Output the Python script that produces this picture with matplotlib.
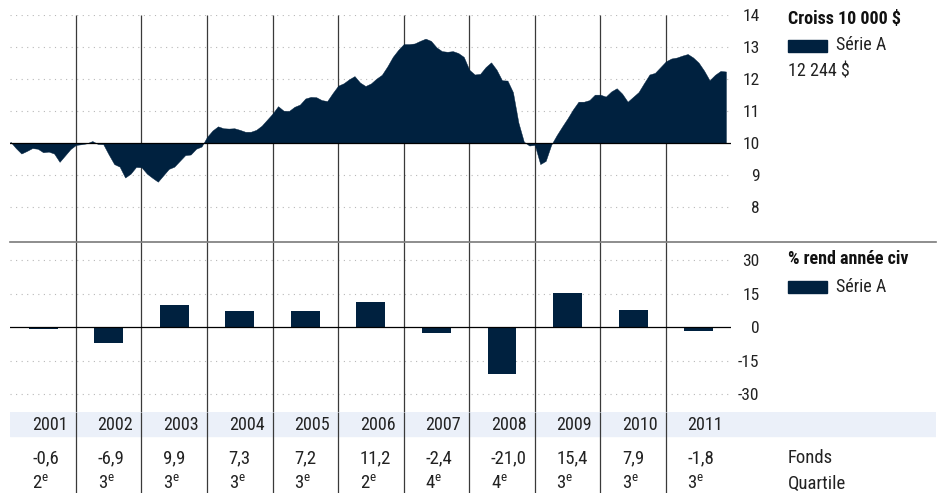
import matplotlib

matplotlib.use("Agg")
import matplotlib.pyplot as plt
import numpy as np
from matplotlib import font_manager
from matplotlib.lines import Line2D
from matplotlib.patches import Rectangle

# ---- data -----------------------------------------------------------------
YEARS = [2001, 2002, 2003, 2004, 2005, 2006, 2007, 2008, 2009, 2010, 2011]
FUND_RETURNS = [-0.6, -6.9, 9.9, 7.3, 7.2, 11.2, -2.4, -21.0, 15.4, 7.9, -1.8]
QUARTILES = [2, 3, 3, 3, 3, 2, 4, 4, 3, 3, 3]

# growth of 10 000 $ (in thousands), month-end values Jan 2001 .. Dec 2011
GROWTH = [
    10.05, 9.85, 9.68, 9.76, 9.85, 9.83, 9.72, 9.74, 9.68, 9.42, 9.62, 9.82,
    9.95, 9.97, 10.0, 10.07, 9.98, 9.97, 9.65, 9.35, 9.27, 8.93, 9.05, 9.26,
    9.25, 9.05, 8.92, 8.8, 9.0, 9.2, 9.27, 9.45, 9.63, 9.65, 9.83, 9.9,
    10.2, 10.4, 10.53, 10.47, 10.46, 10.47, 10.42, 10.36, 10.36, 10.42, 10.55, 10.74,
    10.93, 11.16, 11.02, 11.01, 11.14, 11.21, 11.4, 11.45, 11.44, 11.35, 11.32, 11.57,
    11.8, 11.875, 12.0, 12.1, 11.9, 11.79, 11.87, 12.02, 12.14, 12.4, 12.7, 12.92,
    13.1, 13.1, 13.12, 13.2, 13.27, 13.2, 13.0, 12.88, 12.86, 12.88, 12.82, 12.7,
    12.3, 12.15, 12.17, 12.38, 12.53, 12.3, 11.97, 11.96, 11.6, 10.65, 10.05, 9.93,
    9.95, 9.35, 9.45, 9.95, 10.25, 10.52, 10.78, 11.06, 11.3, 11.3, 11.35, 11.52,
    11.52, 11.46, 11.62, 11.72, 11.55, 11.3, 11.45, 11.6, 11.88, 12.15, 12.2, 12.38,
    12.56, 12.65, 12.68, 12.74, 12.79, 12.68, 12.52, 12.27, 11.97, 12.14, 12.26, 12.244,
]
END_VALUE = "12 244 $"
TOP_TICKS = [8, 9, 10, 11, 12, 13, 14]
BOT_TICKS = [-30, -15, 0, 15, 30]

# ---- style ----------------------------------------------------------------
NAVY = "#00213f"
BAND = "#ebf0f9"
GRID = "#b8b8b8"
VLINE = "#3a3a3a"

installed = {f.name for f in font_manager.fontManager.ttflist}
FONT = next((n for n in ["Liberation Sans Narrow", "Roboto Condensed", "Liberation Sans"]
             if n in installed), "DejaVu Sans")
plt.rcParams["font.family"] = [FONT, "DejaVu Sans"]
plt.rcParams["mathtext.fontset"] = "custom"
plt.rcParams["mathtext.rm"] = FONT

W, H = 949, 493
L, R = 10.4, 731.4            # plot area in pixels
YW = (R - L) / len(YEARS)     # pixels per year
Y_TOP, Y_SEP, Y_BAND, Y_BAND_END = 15.3, 241.7, 412.3, 436.0
TABLE_R = 935.7

fig = plt.figure(figsize=(W / 100, H / 100), dpi=100)


def px_axes(x0, y0, x1, y1):
    return fig.add_axes([x0 / W, 1 - y1 / H, (x1 - x0) / W, (y1 - y0) / H])


def px_year(px):
    return YEARS[0] + (px - L) / YW


def style_value_axis(ax, ticks, base):
    ax.set_xlim(YEARS[0], YEARS[-1] + 1)
    for s in ax.spines.values():
        s.set_visible(False)
    ax.set_xticks([])
    ax.yaxis.tick_right()
    ax.set_yticks(ticks)
    ax.set_yticklabels([str(t) for t in ticks])
    ax.tick_params(axis="y", length=0, pad=20.2, labelsize=12.5, labelcolor="#222222")
    for lab in ax.get_yticklabels():
        lab.set_horizontalalignment("right")
    for t in ticks:
        if t != base:
            ax.axhline(t, color=GRID, lw=0.8, ls=(0, (1, 4)), zorder=0)
    ax.vlines(YEARS[1:], *ax.get_ylim(), color=VLINE, lw=0.9, zorder=1)
    ax.axhline(base, color="black", lw=0.9, zorder=4)


# ---- growth panel -----------------------------------------------------------
ax_top = px_axes(L, Y_TOP, R, Y_SEP)
ax_top.set_ylim(10 - (Y_SEP - 143.3) / 32, 14)
months = YEARS[0] + np.arange(len(GROWTH)) / 12
ax_top.fill_between(months, GROWTH, 10, color=NAVY, lw=0.3, edgecolor=NAVY, zorder=3)
style_value_axis(ax_top, TOP_TICKS, 10)

# ---- calendar returns panel -------------------------------------------------
ax_bot = px_axes(L, Y_SEP, R, Y_BAND)
per = 33.5 / 15
ax_bot.set_ylim(-(Y_BAND - 327.3) / per, (327.3 - Y_SEP) / per)
ax_bot.bar(np.array(YEARS) + 0.5, FUND_RETURNS, width=0.44, color=NAVY, zorder=3)
style_value_axis(ax_bot, BOT_TICKS, 0)

# ---- table ------------------------------------------------------------------
ax_tab = px_axes(L, Y_BAND, TABLE_R, H)
ax_tab.set_xlim(YEARS[0], px_year(TABLE_R))
ax_tab.set_ylim(H, Y_BAND)
ax_tab.axis("off")
ax_tab.axhspan(Y_BAND, Y_BAND_END, color=BAND, zorder=0)
ax_tab.vlines(YEARS[1:], Y_BAND, H, color=VLINE, lw=0.9, zorder=1)
for yr, ret, q in zip(YEARS, FUND_RETURNS, QUARTILES):
    x = yr + 0.33
    ax_tab.text(x, 424.5, str(yr), fontsize=13, color="#222222", va="center")
    ax_tab.text(x, 458, f"{ret:.1f}".replace(".", ","), fontsize=13.5,
                color="#222222", va="center")
    ax_tab.text(x, 484, f"{q}$^{{\\mathrm{{e}}}}$", fontsize=13.5,
                color="#222222", va="center")
ax_tab.text(px_year(788), 458, "Fonds", fontsize=13.5, color="#222222", va="center")
ax_tab.text(px_year(788), 484, "Quartile", fontsize=13.5, color="#222222", va="center")

# separator between panels
fig.add_artist(Line2D([L / W, TABLE_R / W], [1 - Y_SEP / H] * 2,
                      color="#7a7a7a", lw=1.2, transform=fig.transFigure))


# ---- legends ------------------------------------------------------------------
def legend_block(y_title, title, extra=None):
    fig.text(788 / W, 1 - y_title / H, title, fontsize=13, fontweight="bold",
             va="center", color="#111111")
    yp = y_title + 27
    fig.add_artist(Rectangle((788 / W, 1 - (yp + 6) / H), 39 / W, 12 / H,
                             color=NAVY, transform=fig.transFigure))
    fig.text(836.5 / W, 1 - yp / H, "Série A", fontsize=13, va="center", color="#222222")
    if extra:
        fig.text(788 / W, 1 - (yp + 26) / H, extra, fontsize=13, va="center",
                 color="#222222")


legend_block(18.5, "Croiss 10 000 $", END_VALUE)
legend_block(259.5, "% rend année civ")

fig.savefig("out.png", dpi=100)
